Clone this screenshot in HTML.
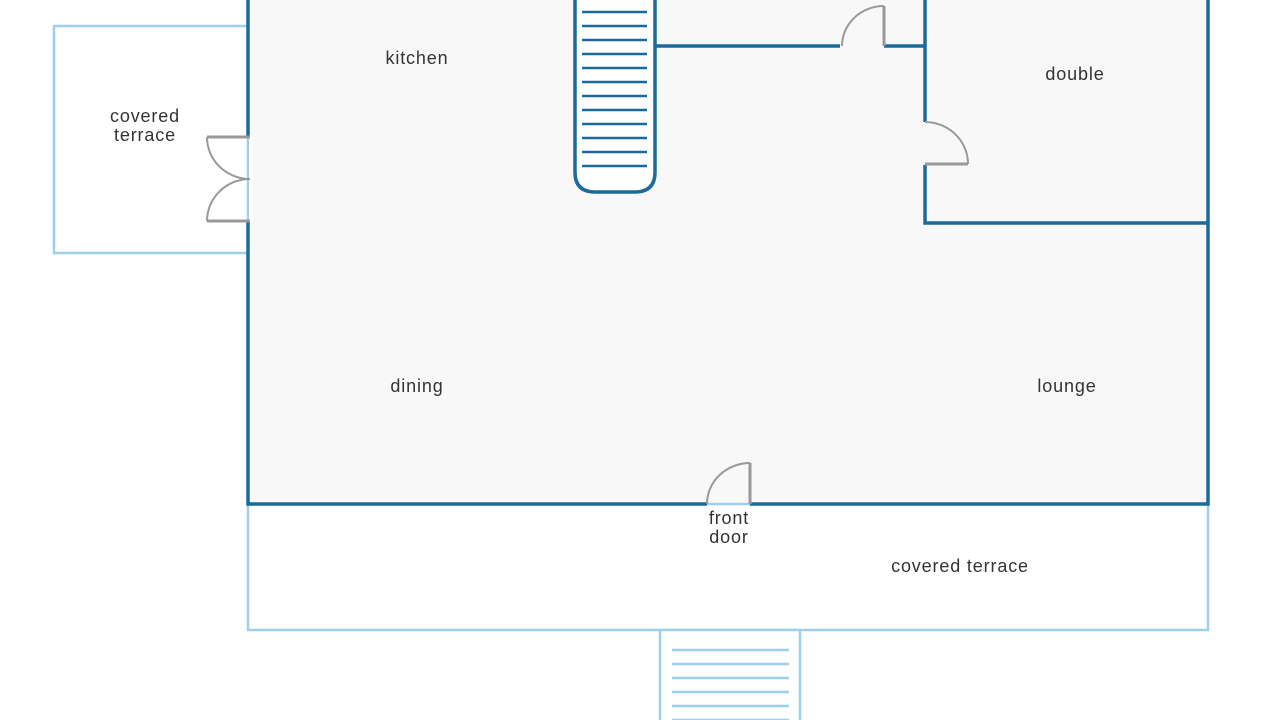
<!DOCTYPE html>
<html><head><style>
html,body{margin:0;padding:0;background:#fff;}
svg{display:block}
text{font-family:"Liberation Sans",sans-serif;font-size:18px;fill:#333;text-anchor:middle;letter-spacing:0.85px}
</style></head><body>
<svg width="1280" height="720" viewBox="0 0 1280 720" xmlns="http://www.w3.org/2000/svg">
<rect x="248" y="-5" width="960" height="509" fill="#f8f8f8"/>
<rect x="54" y="26" width="194" height="227" fill="#fff" stroke="#9fd0ea" stroke-width="2.5"/>
<rect x="248" y="504" width="960" height="126" fill="#fff" stroke="#9fd0ea" stroke-width="2.5"/>
<rect x="660" y="630" width="140" height="100" fill="#fff" stroke="#9fd0ea" stroke-width="2.5"/>
<g stroke="#9fd0ea" stroke-width="2.5">
<line x1="672" y1="650" x2="789" y2="650"/><line x1="672" y1="664" x2="789" y2="664"/>
<line x1="672" y1="678" x2="789" y2="678"/><line x1="672" y1="692" x2="789" y2="692"/>
<line x1="672" y1="706" x2="789" y2="706"/><line x1="672" y1="720" x2="789" y2="720"/>
</g>
<g stroke="#1b6a9c" stroke-width="3.5" fill="none">
<path d="M248 -5 V137 M248 222 V504 H707 M750 504 H1208 V-5"/>
<path d="M655 46 H840 M884 46 H925"/>
<path d="M925 -5 V122 M925 165 V223 H1208"/>
<path d="M575 -5 V172 Q575 192 595 192 H635 Q655 192 655 172 V-5" fill="#fff"/>
</g>
<g stroke="#1b6a9c" stroke-width="2.5">
<line x1="582" y1="12" x2="647" y2="12"/><line x1="582" y1="26" x2="647" y2="26"/>
<line x1="582" y1="40" x2="647" y2="40"/><line x1="582" y1="54" x2="647" y2="54"/>
<line x1="582" y1="68" x2="647" y2="68"/><line x1="582" y1="82" x2="647" y2="82"/>
<line x1="582" y1="96" x2="647" y2="96"/><line x1="582" y1="110" x2="647" y2="110"/>
<line x1="582" y1="124" x2="647" y2="124"/><line x1="582" y1="138" x2="647" y2="138"/>
<line x1="582" y1="152" x2="647" y2="152"/><line x1="582" y1="166" x2="647" y2="166"/>
</g>
<rect x="249" y="137" width="4" height="85" fill="#fff"/>
<g stroke="#999" fill="none">
<path d="M250 137 H207 M250 221 H207" stroke-width="3"/>
<path d="M207 137 A43 42 0 0 0 250 179 A43 42 0 0 0 207 221" stroke-width="2"/>
<path d="M884 46 V6" stroke-width="3"/>
<path d="M884 6 A42 40 0 0 0 842 46" stroke-width="2"/>
<path d="M925 164 H968" stroke-width="3"/>
<path d="M925 122 A43 42 0 0 1 968 164" stroke-width="2"/>
<path d="M750 504 V463" stroke-width="3"/>
<path d="M750 463 A43 41 0 0 0 707 504" stroke-width="2"/>
</g>
<text x="417" y="64">kitchen</text>
<text x="1075" y="80">double</text>
<text x="145" y="122">covered</text>
<text x="145" y="141">terrace</text>
<text x="417" y="392">dining</text>
<text x="1067" y="392">lounge</text>
<text x="729" y="524">front</text>
<text x="729" y="543">door</text>
<text x="960" y="572">covered terrace</text>
</svg>
</body></html>
